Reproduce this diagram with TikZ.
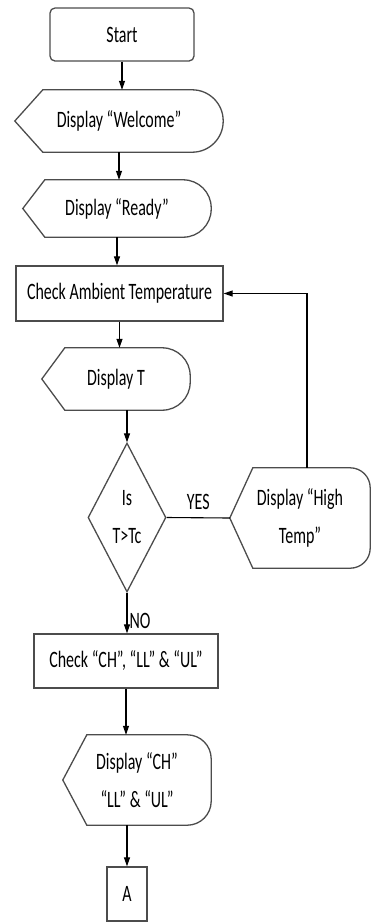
\documentclass[tikz,border=0pt]{standalone}
\usepackage{fontspec}
\setmainfont{Carlito}[FakeStretch=0.68]
\usepackage{tikz}
\usetikzlibrary{shapes.geometric,arrows.meta,calc}

% display symbol drawn round a node: node, point depth, end radius
\newcommand{\dispshape}[3]{%
  \draw[outline] let \p1=(#1.north east), \p2=(#1.south west) in
    (#1.west) -- ({\x2+#2},\y1) -- ({\x1-#3},\y1)
    arc[start angle=90, end angle=0, radius=#3] -- (\x1,{\y2+#3})
    arc[start angle=0, end angle=-90, radius=#3] -- ({\x2+#2},\y2) -- cycle;
}

\begin{document}
\begin{tikzpicture}[
  x=1pt, y=-1pt,
  every node/.style={font=\fontsize{23.5}{38}\selectfont},
  outline/.style={draw=black!70, line width=1.3pt},
  box/.style={rectangle, outline, align=center, inner sep=0pt},
  term/.style={box, rounded corners=5pt},
  disp/.style={rectangle, align=center, inner sep=0pt},
  dec/.style={diamond, outline, align=center, inner sep=0pt, aspect=0.52},
  arr/.style={-{Triangle[length=9pt, width=6pt]}, line width=1.1pt},
  >=Triangle
]

\useasboundingbox (0,0) rectangle (370,922);

% Start and greetings
\node[term, minimum width=144pt, minimum height=53pt] (start) at (122,34.5) {Start};
\node[disp, minimum width=208pt, minimum height=62pt] (welcome) at (119,121) {Display “Welcome”};
\node[disp, minimum width=188pt, minimum height=57pt] (ready) at (117,208.5) {Display “Ready”};
\dispshape{welcome}{28pt}{31pt}
\dispshape{ready}{22pt}{28pt}

% Temperature
\node[box, minimum width=207pt, minimum height=55pt] (check) at (119.5,293.5) {Check Ambient Temperature};
\node[disp, minimum width=148pt, minimum height=62pt] (showT) at (116,379) {Display T};
\dispshape{showT}{23pt}{28pt}

% Decision
\node[dec, minimum width=78pt, minimum height=149pt] (isT) at (127,517.5) {Is\\T>Tc};
\node[disp, minimum width=140pt, minimum height=100pt] (high) at (300,518) {Display “High\\Temp”};
\dispshape{high}{23pt}{20pt}

% Limits
\node[box, minimum width=184pt, minimum height=54pt] (limits) at (126,661) {Check “CH”, “LL” \& “UL”};
\node[disp, minimum width=148pt, minimum height=90pt] (showlim) at (137,780) {Display “CH”\\“LL” \& “UL”};
\dispshape{showlim}{24pt}{24pt}
\node[box, minimum width=40pt, minimum height=54pt] (conn) at (127,894) {A};

% Arrows
\draw[arr] (start) -- (start |- welcome.north);
\draw[arr] (welcome) -- (welcome |- ready.north);
\draw[arr] (ready) -- (ready |- check.north);
\draw[arr] (check) -- (check |- showT.north);
\draw[arr] (showT.south -| isT.north) -- (isT.north);
\draw[line width=1.1pt] (isT.east) -- (high.west) node[midway, above=4pt] (yes) {YES};
\draw[arr] ([xshift=7pt]high.north) |- (check.east);
\draw[arr] (isT) -- (isT |- limits.north) node[pos=0.7, right, inner sep=2pt] (no) {NO};
\draw[arr] (limits) -- (limits |- showlim.north);
\draw[arr] (showlim.south -| conn.north) -- (conn.north);

\end{tikzpicture}
\end{document}
